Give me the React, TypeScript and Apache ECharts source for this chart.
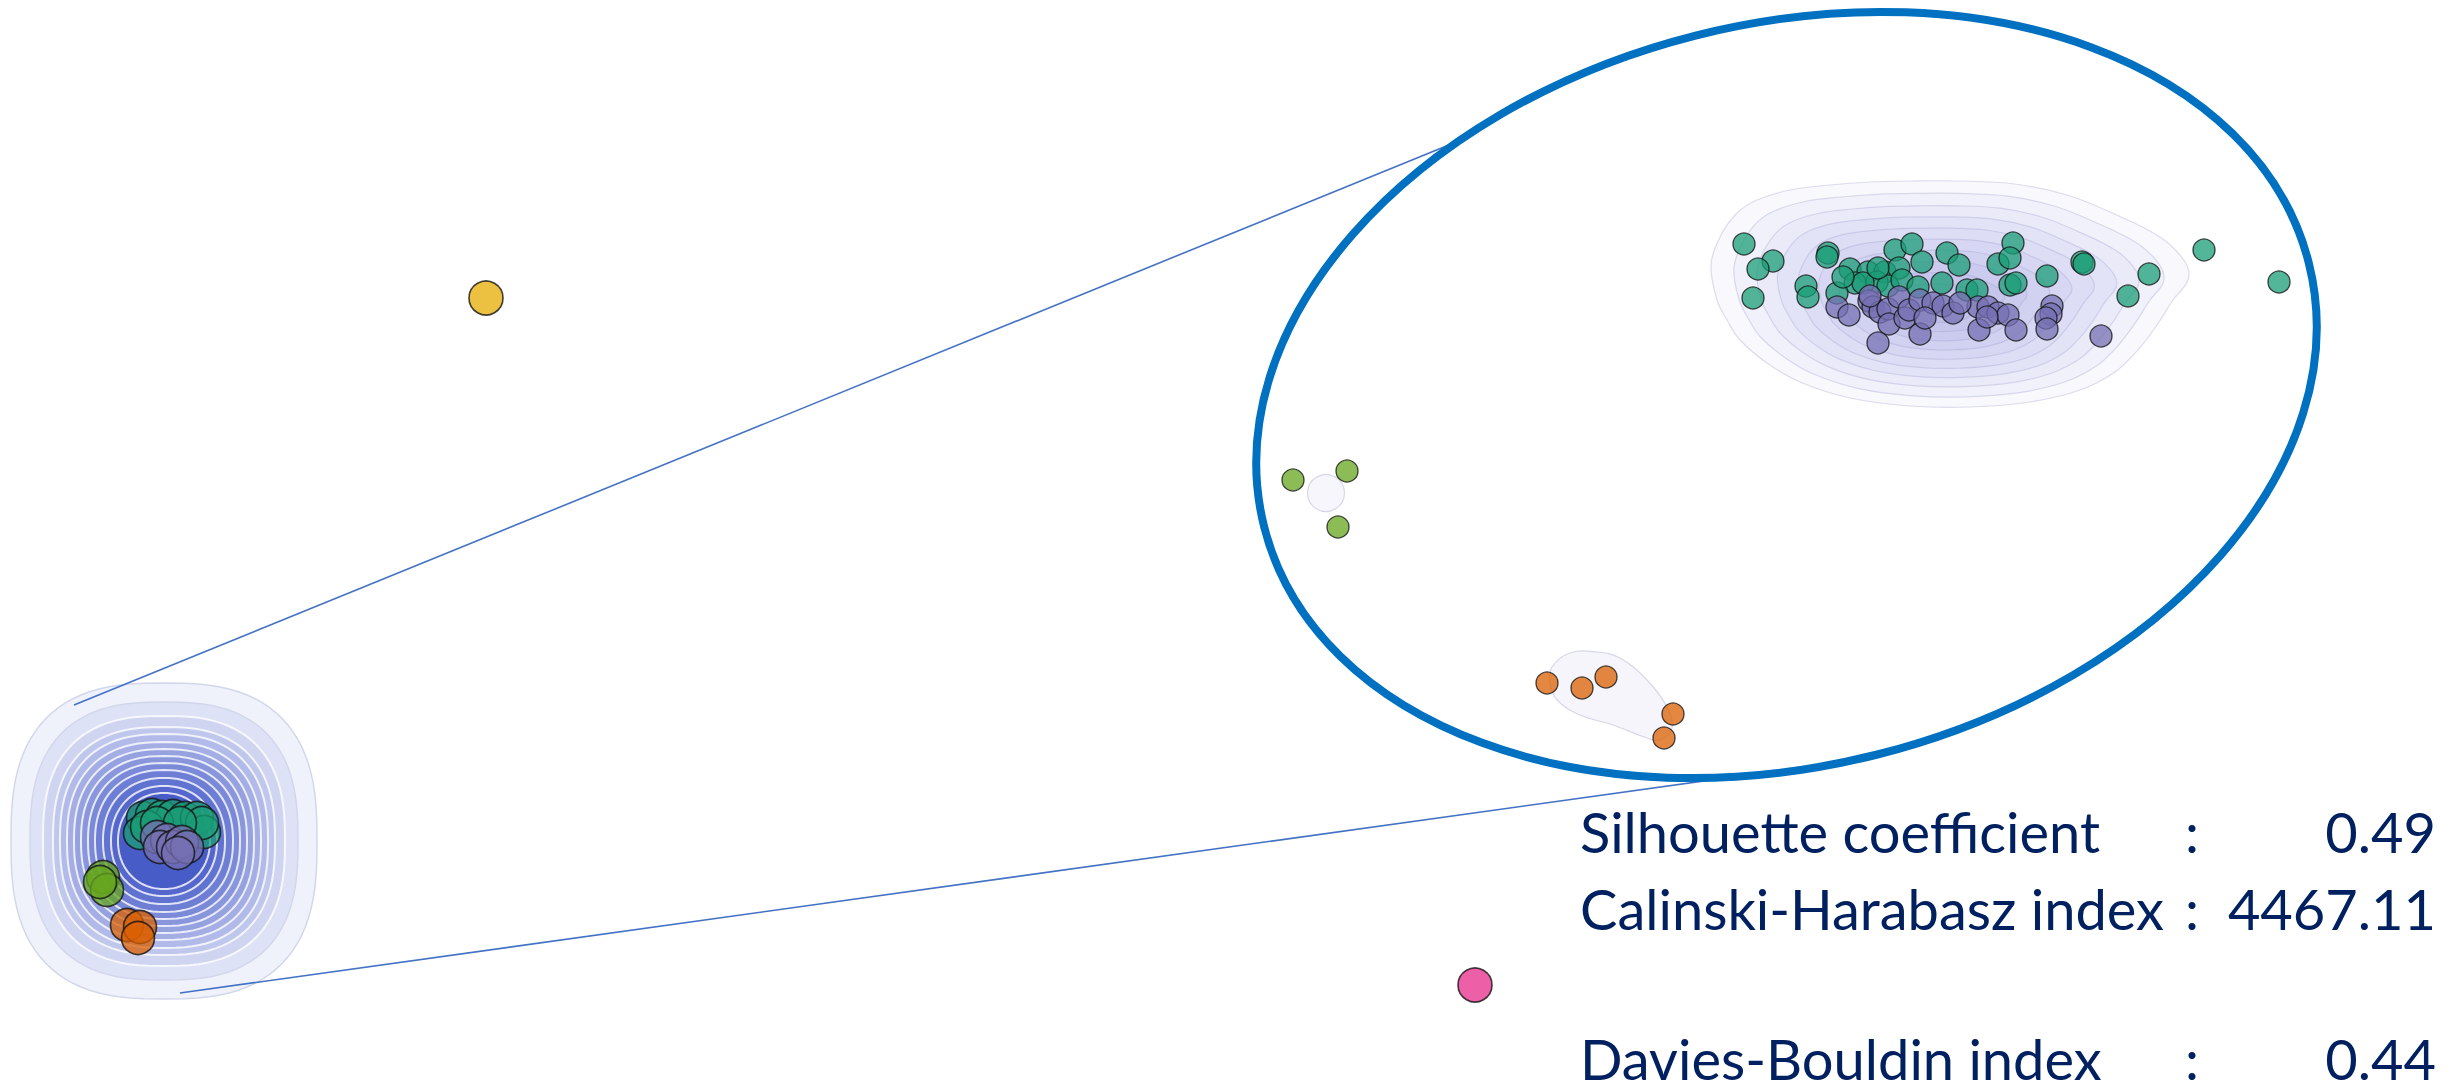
import React, { useEffect, useRef } from "react";
import * as echarts from "echarts";

const W = 2453;
const H = 1092;

// ---------- Overview view (whole figure) ----------
const ovGreen = [
  [1.43, 2.74], [1.52, 2.77], [1.62, 2.75], [1.73, 2.76], [1.85, 2.74], [1.97, 2.74],
  [2.04, 2.6], [2.02, 2.69], [1.4, 2.59], [1.47, 2.65], [1.57, 2.69], [1.8, 2.69],
];
const ovPurple = [
  [1.57, 2.55], [1.67, 2.52], [1.6, 2.45], [1.73, 2.45], [1.82, 2.5], [1.87, 2.45], [1.78, 2.39],
];
const ovLime = [[1.03, 2.15], [1.07, 2.02], [1.0, 2.1]];
const ovOrange = [[1.27, 1.67], [1.4, 1.65], [1.38, 1.54]];
const ovYellow = [[4.86, 7.94]];
const ovPink = [[14.75, 1.07]];

// density contour levels of the overview (centre, radii)
const ovContourCenter = [1.64, 2.51];
const ovContourRx = [1.53, 1.34, 1.21, 1.11, 1.04, 0.97, 0.9, 0.83, 0.76, 0.69, 0.61, 0.53, 0.46];
const ovContourRy = [1.58, 1.39, 1.25, 1.14, 1.07, 0.99, 0.92, 0.85, 0.78, 0.71, 0.63, 0.55, 0.48];

// ---------- Zoomed view (inside the ellipse) ----------
const zGreen = [
  [4.94, 5.56], [5.23, 5.39], [5.08, 5.31], [5.03, 5.02], [5.78, 5.47], [5.77, 5.43],
  [5.56, 5.14], [5.58, 5.03], [6.0, 5.31], [6.18, 5.28], [6.05, 5.17], [5.87, 5.07],
  [6.45, 5.5], [6.62, 5.56], [6.72, 5.38], [6.35, 5.28], [6.49, 5.32], [6.27, 5.18],
  [6.38, 5.14], [6.52, 5.2], [6.97, 5.47], [7.09, 5.35], [6.68, 5.13], [6.92, 5.17],
  [7.17, 5.1], [7.27, 5.1], [7.48, 5.36], [7.63, 5.57], [7.6, 5.42], [7.6, 5.15],
  [7.66, 5.17], [6.13, 5.17], [7.97, 5.24], [8.32, 5.38], [8.34, 5.36], [8.99, 5.26],
  [8.78, 5.04], [9.54, 5.5], [10.29, 5.18], [5.93, 5.23], [6.28, 5.32],
];
const zPurple = [
  [5.87, 4.93], [5.99, 4.85], [6.19, 4.99], [6.23, 4.93], [6.3, 4.88], [6.38, 4.91],
  [6.39, 4.76], [6.49, 5.03], [6.55, 4.82], [6.59, 4.9], [6.7, 5.0], [6.83, 4.97],
  [6.93, 4.94], [7.03, 4.87], [6.28, 4.57], [6.7, 4.66], [7.28, 4.93], [7.29, 4.7],
  [7.38, 4.93], [7.48, 4.87], [7.58, 4.85], [7.66, 4.7], [7.37, 4.83], [7.1, 4.97],
  [8.02, 4.94], [8.01, 4.86], [7.96, 4.82], [7.97, 4.71], [8.51, 4.64], [6.2, 5.04],
  [6.75, 4.82],
];
const zLime = [[0.43, 3.2], [0.97, 3.29], [0.88, 2.73]];
const zOrange = [[2.97, 1.17], [3.32, 1.12], [3.56, 1.23], [4.23, 0.86], [4.14, 0.62]];

// outer density contour of the main cluster and its nested levels
const zClusterOutline = [
  [4.61, 5.35], [4.7, 5.63], [4.87, 5.87], [5.07, 6.0], [5.4, 6.1], [5.8, 6.15],
  [6.2, 6.18], [6.6, 6.19], [7.1, 6.19], [7.65, 6.16], [8.17, 6.05], [8.6, 5.88],
  [9.1, 5.63], [9.35, 5.38], [9.38, 5.2], [9.23, 5.0], [9.07, 4.75], [8.88, 4.5],
  [8.65, 4.28], [8.3, 4.1], [7.8, 3.98], [7.2, 3.93], [6.6, 3.94], [6.0, 4.02],
  [5.5, 4.18], [5.17, 4.37], [4.9, 4.6], [4.77, 4.8], [4.67, 5.0],
];
const zClusterCenter = [6.9, 4.95];
const zClusterLevels = [1, 0.9, 0.8, 0.71, 0.62, 0.53, 0.44, 0.35, 0.26, 0.17];
const zOrangeOutline = [
  [3.02, 1.33], [3.2, 1.47], [3.47, 1.48], [3.7, 1.42], [3.97, 1.2], [4.17, 0.93],
  [4.22, 0.72], [4.1, 0.6], [3.97, 0.62], [3.63, 0.75], [3.3, 0.85], [3.07, 1.0], [3.0, 1.17],
];
const zLimeContour = [[0.76, 3.07, 0.185]];

// ---------- Metrics ----------
const metricNames = ["Silhouette coefficient", "Calinski-Harabasz index", "Davies-Bouldin index"];
const metricValues = ["0.49", "4467.11", "0.44"];

const C = {
  green: "rgba(27,158,119,0.75)",
  purple: "rgba(117,112,179,0.75)",
  lime: "rgba(102,166,30,0.75)",
  orange: "rgba(217,95,2,0.75)",
  yellow: "rgba(230,171,2,0.75)",
  pink: "rgba(231,41,138,0.75)",
  navy: "#002060",
};

function lerp(a: number[], b: number[], t: number) {
  return `rgb(${a.map((v, i) => Math.round(v + (b[i] - v) * t)).join(",")})`;
}

function scatter(name: string, data: number[][], color: string, size: number, idx: number, z = 5) {
  return {
    type: "scatter",
    name,
    xAxisIndex: idx,
    yAxisIndex: idx,
    data,
    symbolSize: size,
    z,
    silent: true,
    itemStyle: {
      color,
      borderColor: "rgba(20,20,20,0.8)",
      borderWidth: idx === 0 ? 1.6 : 1.3,
      opacity: 1,
    },
  };
}

export default function App() {
  const ref = useRef<HTMLDivElement>(null);
  useEffect(() => {
    document.body.style.margin = "0";
    if (!ref.current) return;
    const chart = echarts.init(ref.current, undefined, { renderer: "svg" });

    const nOv = ovContourRx.length;
    const ovContourSeries = {
      type: "custom",
      xAxisIndex: 0,
      yAxisIndex: 0,
      clip: false,
      silent: true,
      z: 1,
      data: ovContourRx.map((rx, i) => [ovContourCenter[0], ovContourCenter[1], rx, ovContourRy[i], i]),
      renderItem: (params: any, api: any) => {
        const c = api.coord([api.value(0), api.value(1)]);
        const s = api.size([api.value(2), api.value(3)]);
        const i = api.value(4);
        const t = i / (nOv - 1);
        const e = 2.7 - 0.6 * t;
        const pts: number[][] = [];
        for (let k = 0; k < 96; k++) {
          const th = (k / 96) * Math.PI * 2;
          const ct = Math.cos(th);
          const st = Math.sin(th);
          pts.push([
            c[0] + s[0] * Math.sign(ct) * Math.pow(Math.abs(ct), 2 / e),
            c[1] - s[1] * Math.sign(st) * Math.pow(Math.abs(st), 2 / e),
          ]);
        }
        return {
          type: "polygon",
          shape: { points: pts },
          style: {
            fill: lerp([240, 242, 251], [72, 92, 200], Math.pow(t, 0.9)),
            stroke: i < 2 ? "#d3d7ec" : "rgba(255,255,255,0.8)",
            lineWidth: i < 2 ? 1.5 : 2,
          },
        };
      },
    };

    const clusterSeries = {
      type: "custom",
      xAxisIndex: 1,
      yAxisIndex: 1,
      clip: false,
      silent: true,
      z: 1,
      data: zClusterLevels.map((f, i) => [zClusterCenter[0], zClusterCenter[1], f, i]),
      renderItem: (params: any, api: any) => {
        const cx = api.value(0);
        const cy = api.value(1);
        const f = api.value(2);
        const pts = zClusterOutline.map((p) => api.coord([cx + (p[0] - cx) * f, cy + (p[1] - cy) * f]));
        return {
          type: "polygon",
          shape: { points: pts, smooth: 0.35 },
          style: {
            fill: "rgba(80,86,195,0.04)",
            stroke: "rgba(160,162,205,0.35)",
            lineWidth: 1.2,
          },
        };
      },
    };

    const orangeBlobSeries = {
      type: "custom",
      xAxisIndex: 1,
      yAxisIndex: 1,
      clip: false,
      silent: true,
      z: 1,
      data: [zOrangeOutline[0]],
      renderItem: (params: any, api: any) => ({
        type: "polygon",
        shape: { points: zOrangeOutline.map((p) => api.coord(p)), smooth: 0.4 },
        style: { fill: "rgba(235,236,248,0.5)", stroke: "rgba(200,202,225,0.7)", lineWidth: 1.2 },
      }),
    };

    const limeBlobSeries = {
      type: "custom",
      xAxisIndex: 1,
      yAxisIndex: 1,
      clip: false,
      silent: true,
      z: 1,
      data: zLimeContour,
      renderItem: (params: any, api: any) => {
        const c = api.coord([api.value(0), api.value(1)]);
        const s = api.size([api.value(2), api.value(2)]);
        return {
          type: "circle",
          shape: { cx: c[0], cy: c[1], r: s[0] },
          style: { fill: "rgba(240,240,250,0.6)", stroke: "rgba(205,205,228,0.8)", lineWidth: 1.2 },
        };
      },
    };

    const rowY = [831, 908, 1058];
    const textGraphics: any[] = [];
    metricNames.forEach((name, i) => {
      const font = { fontFamily: "Lato", fontSize: 56, fill: C.navy };
      textGraphics.push({ type: "text", x: 1580, y: rowY[i], z: 20, style: { text: name, ...font, textAlign: "left", textVerticalAlign: "middle" } });
      textGraphics.push({ type: "text", x: 2192, y: rowY[i], z: 20, style: { text: ":", ...font, textAlign: "center", textVerticalAlign: "middle" } });
      textGraphics.push({ type: "text", x: 2436, y: rowY[i], z: 20, style: { text: metricValues[i], ...font, textAlign: "right", textVerticalAlign: "middle" } });
    });

    chart.setOption({
      animation: false,
      backgroundColor: "#ffffff",
      grid: [
        { left: 0, top: 0, width: W, height: H },
        { left: 1250, top: 0, width: 1100, height: 800 },
      ],
      xAxis: [
        { type: "value", gridIndex: 0, min: 0, max: 24.53, show: false, splitLine: { show: false } },
        { type: "value", gridIndex: 1, min: 0, max: 11, show: false, splitLine: { show: false } },
      ],
      yAxis: [
        { type: "value", gridIndex: 0, min: 0, max: 10.92, show: false, splitLine: { show: false } },
        { type: "value", gridIndex: 1, min: 0, max: 8, show: false, splitLine: { show: false } },
      ],
      graphic: [
        { type: "line", z: 8, shape: { x1: 74, y1: 705, x2: 1466, y2: 138 }, style: { stroke: "#4472C4", lineWidth: 1.6 } },
        { type: "line", z: 8, shape: { x1: 180, y1: 993, x2: 1840, y2: 762 }, style: { stroke: "#4472C4", lineWidth: 1.6 } },
        {
          type: "ellipse",
          z: 10,
          x: 1786.5,
          y: 395,
          rotation: 0.248,
          shape: { cx: 0, cy: 0, rx: 539, ry: 371 },
          style: { fill: "none", stroke: "#0070C0", lineWidth: 8 },
        },
        ...textGraphics,
      ],
      series: [
        ovContourSeries,
        scatter("ov-green", ovGreen, C.green, 33, 0),
        scatter("ov-purple", ovPurple, C.purple, 33, 0),
        scatter("ov-lime", ovLime, C.lime, 33, 0),
        scatter("ov-orange", ovOrange, C.orange, 33, 0),
        scatter("ov-yellow", ovYellow, C.yellow, 34, 0),
        scatter("ov-pink", ovPink, C.pink, 34, 0),
        clusterSeries,
        orangeBlobSeries,
        limeBlobSeries,
        scatter("z-green", zGreen, C.green, 22, 1),
        scatter("z-purple", zPurple, C.purple, 22, 1),
        scatter("z-lime", zLime, C.lime, 22, 1),
        scatter("z-orange", zOrange, C.orange, 22, 1),
      ],
    });
    return () => chart.dispose();
  }, []);
  return <div ref={ref} style={{ width: W, height: H }} />;
}
